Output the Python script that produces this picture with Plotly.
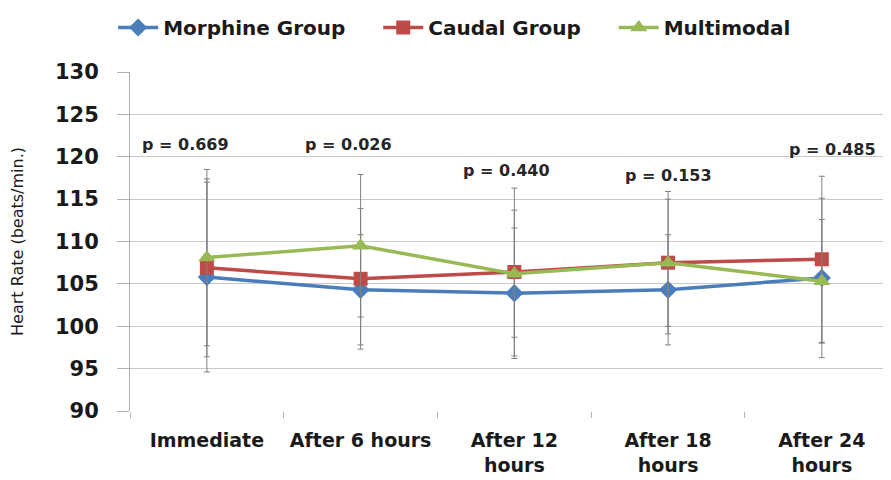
import plotly.graph_objects as go

categories = ["Immediate", "After 6 hours", "After 12<br>hours", "After 18<br>hours", "After 24<br>hours"]
morphine = [105.8, 104.3, 103.9, 104.3, 105.7]
morphine_sd = [11.2, 6.5, 7.7, 6.5, 9.4]
caudal = [106.9, 105.6, 106.4, 107.5, 107.9]
caudal_sd = [10.5, 8.3, 9.9, 8.4, 9.8]
multimodal = [108.1, 109.5, 106.2, 107.5, 105.3]
multimodal_sd = [10.4, 8.4, 7.5, 7.5, 7.3]
p_values = ["p = 0.669", "p = 0.026", "p = 0.440", "p = 0.153", "p = 0.485"]
y_ticks = [90, 95, 100, 105, 110, 115, 120, 125, 130]

# annotation placement (layout, not data)
p_x = [-0.14, 0.92, 1.95, 3.0, 4.07]
p_y = [121.4, 121.4, 118.4, 117.8, 120.9]

FONT = "DejaVu Sans"
BLUE = "#4A7EBB"
RED = "#BE4B48"
GREEN = "#98B954"
ERR = "#808080"

fig = go.Figure()
series = [
    ("Morphine Group", morphine, morphine_sd, BLUE, "diamond", 14, "\u00a0\u00a0\u00a0\u00a0"),
    ("Caudal Group", caudal, caudal_sd, RED, "square", 14, "\u00a0\u00a0\u00a0\u00a0"),
    ("Multimodal", multimodal, multimodal_sd, GREEN, "triangle-up", 15, ""),
]
for name, vals, sd, col, sym, sz, pad in series:
    fig.add_trace(go.Scatter(
        x=categories, y=vals, name=name + pad, mode="lines+markers",
        line=dict(color=col, width=3.5),
        marker=dict(symbol=sym, size=sz, color=col),
        error_y=dict(type="data", array=sd, visible=True, color=ERR, thickness=1, width=3),
    ))

for txt, xx, yy in zip(p_values, p_x, p_y):
    fig.add_annotation(x=xx, y=yy, text="<b>%s</b>" % txt, showarrow=False,
                       font=dict(family=FONT, size=16, color="#262626"),
                       xanchor="center", yanchor="middle")

fig.update_layout(
    width=891, height=480,
    margin=dict(l=122, r=8, t=64, b=77, autoexpand=False),
    paper_bgcolor="white", plot_bgcolor="white",
    font=dict(family=FONT, color="#1a1a1a"),
    showlegend=True,
    legend=dict(orientation="h", xref="container", yref="container",
                x=0.118, xanchor="left", y=1.0, yanchor="top",
                font=dict(family=FONT, size=20, color="#1a1a1a", weight="bold"),
                itemwidth=40, traceorder="normal"),
)
fig.update_xaxes(
    type="category", range=[-0.5, 4.45], showgrid=False, automargin=False,
    showline=False, ticks="outside", tickson="boundaries", ticklen=6,
    tickcolor="#b0b0b0", ticklabelstandoff=16,
    tickfont=dict(family=FONT, size=19, color="#1a1a1a", weight="bold"),
)
fig.update_yaxes(
    range=[90, 130], tickvals=y_ticks, automargin=False,
    showgrid=True, gridcolor="#c8c8c8", gridwidth=1,
    showline=True, linecolor="#b0b0b0", linewidth=1,
    ticks="outside", ticklen=12, tickcolor="#b0b0b0", ticklabelstandoff=14,
    tickfont=dict(family=FONT, size=21, color="#1a1a1a", weight="bold"),
    title=dict(text="Heart Rate (beats/min.)", font=dict(family=FONT, size=16, color="#1a1a1a"), standoff=30),
    zeroline=False,
)

fig.write_html("out.html")
